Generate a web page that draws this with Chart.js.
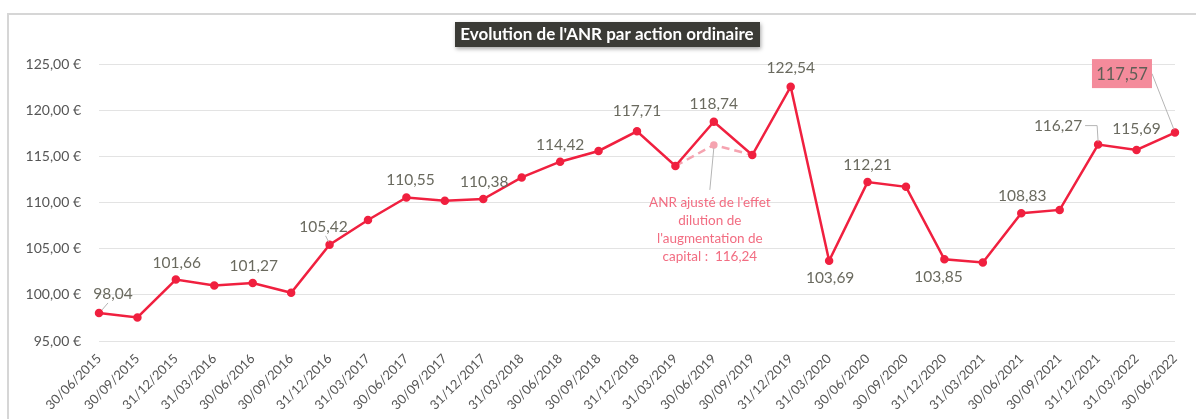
<!DOCTYPE html>
<html>
<head>
<meta charset="utf-8">
<script src="https://cdn.jsdelivr.net/npm/chart.js@4.4.1/dist/chart.umd.min.js"></script>
<style>
  html, body { margin: 0; padding: 0; background: #fff; }
  #wrap { position: relative; width: 1196px; height: 419px; }
</style>
</head>
<body>
<div id="wrap"><canvas id="anrChart" width="1196" height="419"></canvas></div>
<script>
// Quarter-end dates
const dates = [
    "30/06/2015", "30/09/2015", "31/12/2015", "31/03/2016", "30/06/2016", "30/09/2016",
    "31/12/2016", "31/03/2017", "30/06/2017", "30/09/2017", "31/12/2017", "31/03/2018",
    "30/06/2018", "30/09/2018", "31/12/2018", "31/03/2019", "30/06/2019", "30/09/2019",
    "31/12/2019", "31/03/2020", "30/06/2020", "30/09/2020", "31/12/2020", "31/03/2021",
    "30/06/2021", "30/09/2021", "31/12/2021", "31/03/2022", "30/06/2022"
];

// ANR par action ordinaire (EUR)
const anrValues = [
    98.04, 97.55, 101.66, 101.01, 101.27, 100.22,
    105.42, 108.10, 110.55, 110.20, 110.38, 112.72,
    114.42, 115.58, 117.71, 113.95, 118.74, 115.14,
    122.54, 103.69, 112.21, 111.70, 103.85, 103.51,
    108.83, 109.20, 116.27, 115.69, 117.57
];

// ANR adjusted for dilution (only around the capital increase)
const adjustedValues = [
    null, null, null, null, null, null,
    null, null, null, null, null, null,
    null, null, null, 113.95, 116.24, 115.14,
    null, null, null, null, null, null,
    null, null, null, null, null
];

const yTicks = [95, 100, 105, 110, 115, 120, 125];

const fmt = v => v.toFixed(2).replace(".", ",");

// which points get a value label, and where (offset from point, px)
const labelPlaces = {
    0: { dx: 14, dy: -19, leader: true },
    2: { dx: 1, dy: -17 },
    4: { dx: 1, dy: -17 },
    6: { dx: -6, dy: -18, leader: true },
    8: { dx: 4, dy: -17 },
    10: { dx: 1, dy: -17 },
    12: { dx: 0, dy: -17 },
    14: { dx: 0, dy: -20 },
    16: { dx: 0, dy: -18 },
    18: { dx: 0, dy: -19 },
    19: { dx: 1, dy: 17 },
    20: { dx: 0, dy: -17 },
    22: { dx: -6, dy: 18 },
    24: { dx: 1, dy: -17 },
    26: { dx: -40, dy: -19, bracket: true },
    27: { dx: 0, dy: -21 },
    28: { dx: -53, dy: -59, boxed: true }
};

const FONT = "Lato, 'Noto Sans', sans-serif";
const LABEL_COLOR = "#6a6a5f";

const decorPlugin = {
    id: "decor",
    beforeDraw(chart) {
        const ctx = chart.ctx;
        ctx.save();
        ctx.strokeStyle = "#d6d6d6";
        ctx.lineWidth = 2;
        ctx.beginPath();
        ctx.moveTo(8, 419);
        ctx.lineTo(8, 14);
        ctx.lineTo(1196, 14);
        ctx.stroke();
        ctx.restore();
    },
    afterDatasetsDraw(chart) {
        const ctx = chart.ctx;
        const xs = chart.scales.x, ys = chart.scales.y;
        ctx.save();
        ctx.font = "15.5px " + FONT;
        ctx.textAlign = "center";
        ctx.textBaseline = "middle";

        Object.keys(labelPlaces).forEach(k => {
            const i = Number(k);
            const p = labelPlaces[i];
            const px = xs.getPixelForValue(i);
            const py = ys.getPixelForValue(anrValues[i]);
            const tx = px + p.dx, ty = py + p.dy;
            const text = fmt(anrValues[i]);

            ctx.strokeStyle = "#b5b5b5";
            ctx.lineWidth = 1;
            if (p.leader) {
                ctx.beginPath();
                ctx.moveTo(px + (p.dx > 0 ? 3 : -1), py - 3);
                ctx.lineTo(px + (p.dx > 0 ? 9 : -4), ty + 9);
                ctx.stroke();
            }
            if (p.bracket) {
                ctx.beginPath();
                ctx.moveTo(tx + 27, ty);
                ctx.lineTo(px - 1, ty);
                ctx.lineTo(px, py - 3);
                ctx.stroke();
            }
            if (p.boxed) {
                const w = 60, h = 29;
                ctx.beginPath();
                ctx.moveTo(tx + w / 2, ty);
                ctx.lineTo(px - 1, py - 3);
                ctx.stroke();
                ctx.fillStyle = "#f48b9b";
                ctx.fillRect(tx - w / 2, ty - h / 2, w, h);
                ctx.fillStyle = "#5e5e56";
                ctx.font = "16.5px " + FONT;
                ctx.fillText(text, tx, ty + 1);
                ctx.font = "15.5px " + FONT;
                return;
            }
            ctx.fillStyle = LABEL_COLOR;
            ctx.fillText(text, tx, ty);
        });

        // note for the dilution-adjusted value
        const ax = xs.getPixelForValue(16);
        const ay = ys.getPixelForValue(adjustedValues[16]);
        ctx.strokeStyle = "#b5b5b5";
        ctx.lineWidth = 1;
        ctx.beginPath();
        ctx.moveTo(ax, ay + 3);
        ctx.lineTo(ax - 4, ay + 45);
        ctx.stroke();
        ctx.fillStyle = "#f26d82";
        ctx.font = "13.5px " + FONT;
        const noteLines = ["ANR ajusté de l'effet", "dilution de", "l'augmentation de", "capital :  " + fmt(adjustedValues[16])];
        noteLines.forEach((line, n) => ctx.fillText(line, ax - 4, ay + 58 + n * 18));

        // title box
        ctx.shadowColor = "rgba(0,0,0,0.35)";
        ctx.shadowBlur = 4;
        ctx.shadowOffsetX = 1;
        ctx.shadowOffsetY = 2;
        ctx.fillStyle = "#3b3b36";
        ctx.fillRect(455, 22, 305, 25);
        ctx.shadowColor = "transparent";
        ctx.fillStyle = "#ffffff";
        ctx.font = "bold 17px " + FONT;
        ctx.fillText("Evolution de l'ANR par action ordinaire", 607, 35);
        ctx.restore();
    }
};

const ctx = document.getElementById("anrChart").getContext("2d");

new Chart(ctx, {
    type: "line",
    data: {
        labels: dates,
        datasets: [
            {
                label: "ANR par action",
                data: anrValues,
                borderColor: "#f0203f",
                backgroundColor: "#f0203f",
                borderWidth: 2.5,
                pointRadius: 3,
                pointHoverRadius: 3,
                tension: 0,
                order: 1
            },
            {
                label: "ANR ajusté",
                data: adjustedValues,
                borderColor: "#f5a3b0",
                backgroundColor: "#f5a3b0",
                borderWidth: 2.5,
                borderDash: [8, 5],
                pointRadius: [0, 0, 0, 0, 0, 0, 0, 0, 0, 0, 0, 0, 0, 0, 0, 0, 2.5, 0],
                tension: 0,
                order: 2
            }
        ]
    },
    options: {
        responsive: false,
        animation: false,
        clip: false,
        layout: { padding: { left: 10, right: 15, top: 64, bottom: 6 } },
        plugins: {
            legend: { display: false },
            tooltip: { enabled: false }
        },
        scales: {
            x: {
                offset: false,
                grid: { display: false, drawTicks: false },
                border: { display: false },
                ticks: {
                    autoSkip: false,
                    maxRotation: 45,
                    minRotation: 45,
                    padding: 10,
                    color: "#555555",
                    font: { family: FONT, size: 13 }
                },
                afterFit: s => { s.height = 72; }
            },
            y: {
                min: 95,
                max: 125,
                afterBuildTicks: s => { s.ticks = yTicks.map(v => ({ value: v })); },
                grid: { color: "#e3e3e3", lineWidth: 1, drawTicks: false },
                border: { display: false },
                ticks: {
                    padding: 18,
                    color: "#555555",
                    font: { family: FONT, size: 14 },
                    callback: v => fmt(v) + " €"
                },
                afterFit: s => { s.width = 89; }
            }
        }
    },
    plugins: [decorPlugin]
});
</script>
</body>
</html>
